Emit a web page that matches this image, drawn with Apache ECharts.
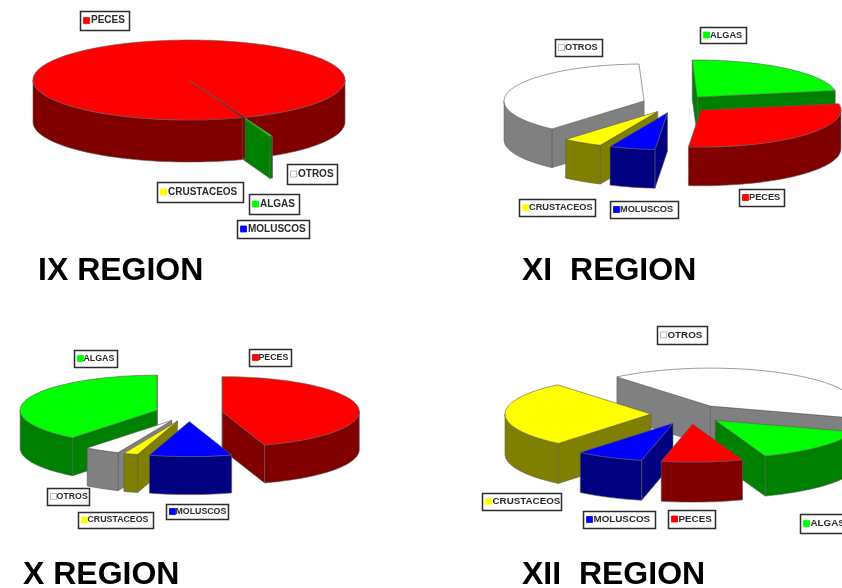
<!DOCTYPE html>
<html><head><meta charset="utf-8">
<style>html,body{margin:0;padding:0;background:#fff}#c{width:842px;height:588px}</style>
<script src="https://cdn.jsdelivr.net/npm/echarts@6/dist/echarts.min.js"></script>
</head><body><div id="c"></div>
<script>
// Clockwise order of the slices in all four pies
const categories = ["PECES", "MOLUSCOS", "CRUSTACEOS", "OTROS", "ALGAS"];
const regionNames = ["IX REGION", "XI  REGION", "X REGION", "XII  REGION"];
const valuesIX  = [99.7, 0, 0, 0, 0.3];
const valuesXI  = [29.2, 5.3, 4.7, 38, 22.8];
const valuesX   = [45, 9.7, 1.7, 4.2, 39.4];
const valuesXII = [9, 7.5, 28, 41, 14.5];

const topColors  = ["#ff0000", "#0000ff", "#ffff00", "#ffffff", "#00ff00"];
const sideColors = ["#800000", "#000080", "#808000", "#808080", "#008000"];

const F = "'Liberation Sans', Arial, sans-serif";
// Geometry: ellipse centre/radii, extrusion, first angle, explosion per slice, paint order (back to front)
const layouts = [
  { values: valuesIX, cx: 189, cy: 80, rx: 156, ry: 40, depth: 42, start: 70, explode: [0, 0, 0, 0, 0.5],
    order: [4, 0, 1, 2, 3], underlay: 0, title: [38, 271.5], font: 10, textGap: 11,
    labels: [[0, 80, 11, 50, 20], [3, 287, 164, 51, 21], [2, 157, 182, 87, 21], [4, 249, 194, 51, 21], [1, 237, 220, 73, 19]] },
  { values: valuesXI, cx: 676, cy: 104, rx: 140, ry: 37, depth: 38.7, start: -10, explode: [.242, .242, .242, .242, .242],
    order: [3, 4, 2, 1, 0], underlay: -1, title: [522, 271.5], font: 9.2, textGap: 10,
    labels: [[3, 555, 39, 48, 18], [4, 700, 27, 47, 17], [2, 519, 199, 77, 18], [1, 610, 201, 69, 18], [0, 739, 189, 46, 18]] },
  { values: valuesX, cx: 189, cy: 413, rx: 137, ry: 35, depth: 38, start: -90, explode: [.246, .246, .246, .246, .246],
    order: [4, 0, 3, 2, 1], underlay: -1, title: [23, 575], font: 8.8, textGap: 9.5,
    labels: [[4, 74, 350, 44, 18], [0, 249, 349, 43, 18], [3, 47, 488, 43, 18], [2, 78, 512, 76, 17], [1, 166, 504, 63, 16]] },
  { values: valuesXII, cx: 690, cy: 414, rx: 146, ry: 38, depth: 40, start: 70, explode: [.267, .267, .267, .25, .24],
    order: [3, 2, 4, 1, 0], underlay: -1, title: [522, 575], font: 9.8, textGap: 10.5,
    labels: [[3, 657, 326, 51, 19], [2, 482, 493, 80, 18], [1, 583, 511, 73, 18], [0, 668, 510, 48, 19], [4, 800, 514, 60, 20]] }
];

const EDGE = { stroke: "#5a5a5a", lineWidth: 0.6 };

function sliceFaces(L, idx) {
  const total = L.values.reduce((a, b) => a + b, 0);
  let a = L.start;
  for (let i = 0; i < idx; i++) a += L.values[i] / total * 360;
  const b = a + L.values[idx] / total * 360;
  const mid = (a + b) / 2 * Math.PI / 180;
  const e = L.explode[idx];
  const ox = L.cx + e * L.rx * Math.cos(mid), oy = L.cy + e * L.ry * Math.sin(mid);
  const rad = d => d * Math.PI / 180;
  const pt = (deg, dz) => [ox + L.rx * Math.cos(rad(deg)), oy + L.ry * Math.sin(rad(deg)) + (dz || 0)];
  const arc = (s, t, dz) => {
    const n = Math.max(2, Math.ceil((t - s) / 2)), out = [];
    for (let k = 0; k <= n; k++) out.push(pt(s + (t - s) * k / n, dz));
    return out;
  };
  const base = (L.order.indexOf(idx) + 1) * 10;
  const top = topColors[idx], side = sideColors[idx];
  const poly = (points, fill, z2) => ({ type: "polygon", z2, shape: { points }, style: Object.assign({ fill }, EDGE) });
  const kids = [];
  // only the cut faces that turn towards the viewer are drawn
  [[a, Math.cos(rad(a)) < 0.001], [b, Math.cos(rad(b)) > -0.001]].forEach(([deg, visible]) => {
    if (!visible) return;
    kids.push(poly([[ox, oy], pt(deg), pt(deg, L.depth), [ox, oy + L.depth]], side, base + 1));
  });
  for (let k = -1; k < 3; k++) {
    const s = Math.max(a, 360 * k), t = Math.min(b, 360 * k + 180);
    if (t > s) {
      const z = (idx === L.underlay && k >= 1) ? 1 : base + 2;
      kids.push(poly(arc(s, t, 0).concat(arc(s, t, L.depth).reverse()), side, z));
    }
  }
  kids.push(poly([[ox, oy]].concat(arc(a, b, 0)), top, base + 3));
  return kids;
}

const series = layouts.map(L => ({
  type: "custom",
  coordinateSystem: "none",
  silent: true,
  animation: false,
  clip: false,
  data: L.values.map((v, i) => [i, v]),
  renderItem: (params, api) => {
    const idx = api.value(0);
    if (!(api.value(1) > 0)) return { type: "group", children: [] };
    return { type: "group", children: sliceFaces(L, idx) };
  }
}));

const graphics = [];
layouts.forEach((L, r) => {
  graphics.push({ type: "text", z: 50, style: { x: L.title[0], y: L.title[1], text: regionNames[r],
    font: "bold 32px " + F, fill: "#000", textAlign: "left", textVerticalAlign: "middle" } });
  L.labels.forEach(([c, x, y, w, h]) => {
    const m = y + h / 2;
    graphics.push({ type: "rect", z: 50, shape: { x: x + .5, y: y + .5, width: w - 1, height: h - 1 },
      style: { fill: "#fff", stroke: "#2b2b2b", lineWidth: 1.5 } });
    graphics.push({ type: "rect", z: 51, shape: { x: x + 3.5, y: m - 3.5, width: 6, height: 6 },
      style: { fill: topColors[c], stroke: c === 3 ? "#aaa" : topColors[c], lineWidth: .8 } });
    graphics.push({ type: "text", z: 51, style: { x: x + L.textGap, y: m - .5, text: categories[c],
      font: "bold " + L.font + "px " + F, fill: "#2a2a2a", textAlign: "left", textVerticalAlign: "middle" } });
  });
});

const chart = echarts.init(document.getElementById("c"), null, { renderer: "canvas" });
chart.setOption({ backgroundColor: "#fff", animation: false, series, graphic: graphics });
</script></body></html>
